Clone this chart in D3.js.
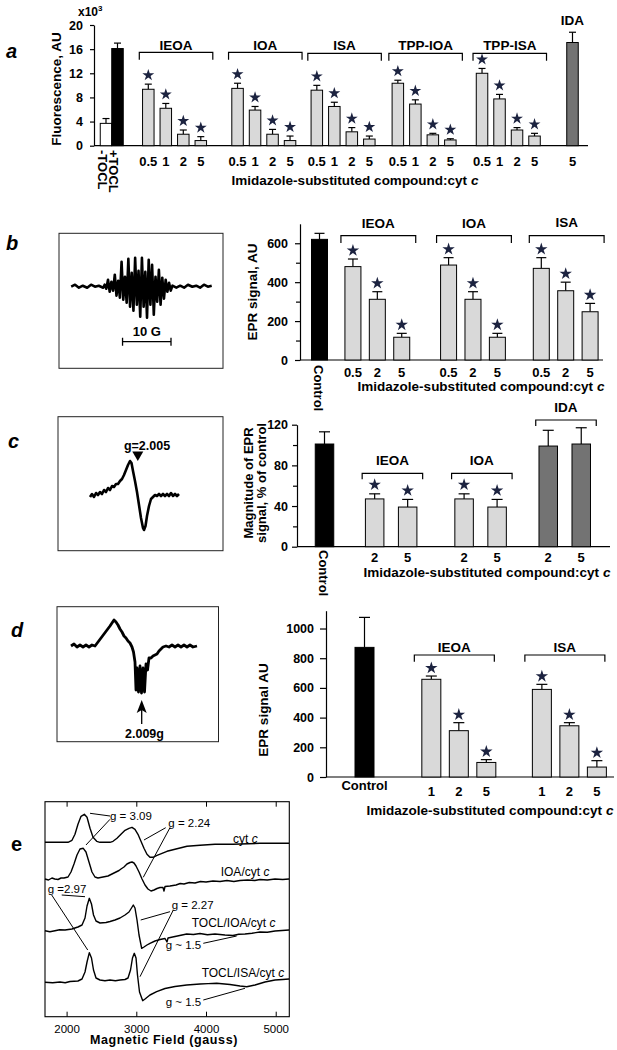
<!DOCTYPE html>
<html><head><meta charset="utf-8">
<script src="https://cdn.jsdelivr.net/npm/d3@7"></script>
<style>
body{margin:0;background:#fff;}
svg{display:block;background:#fff;}
</style></head><body>
<svg id="fig" width="617" height="1050"></svg>
<script>
// ================= DATA =================
// Panel a : fluorescence (x10^3 AU)
const aGroups = ["TOCL", "IEOA", "IOA", "ISA", "TPP-IOA", "TPP-ISA", "IDA"];
const aDoses = [["-TOCL","+TOCL"],["0.5","1","2","5"],["0.5","1","2","5"],["0.5","1","2","5"],["0.5","1","2","5"],["0.5","1","2","5"],["5"]];
const aValues = [[3.7,16.1],[9.35,6.2,1.9,0.85],[9.5,5.9,1.9,0.85],[9.2,6.5,2.3,1.1],[10.35,6.9,1.8,0.95],[12.0,7.75,2.6,1.6],[17.1]];
const aErrors = [[0.8,0.9],[0.85,0.8,0.7,0.65],[0.85,0.6,0.8,0.75],[0.8,0.7,0.7,0.5],[0.5,0.7,0.25,0.2],[0.8,0.75,0.4,0.45],[1.7]];
const aYTicks = [0,4,8,12,16,20];

// Panel b : EPR signal, AU
const bGroups = ["Control", "IEOA", "IOA", "ISA"];
const bDoses = [["Control"],["0.5","2","5"],["0.5","2","5"],["0.5","2","5"]];
const bValues = [[620],[480,312,117],[488,312,117],[471,356,248]];
const bErrors = [[31],[39,39,20],[38,39,20],[55,44,43]];
const bYTicks = [0,200,400,600];
const bYMinor = [100,300,500];

// Panel c : magnitude of EPR signal, % of control
const cGroups = ["Control", "IEOA", "IOA", "IDA"];
const cDoses = [["Control"],["2","5"],["2","5"],["2","5"]];
const cValues = [[101],[47,39],[47,39],[99,101]];
const cErrors = [[12],[5,7.5],[5,7.5],[15.5,16]];
const cYTicks = [0,40,80,120];
const cYMinor = [20,60,100];

// Panel d : EPR signal AU
const dGroups = ["Control", "IEOA", "ISA"];
const dDoses = [["Control"],["1","2","5"],["1","2","5"]];
const dValues = [[873],[658,312,98],[590,345,67]];
const dErrors = [[202],[22,54,19],[34,21,43]];
const dYTicks = [0,200,400,600,800,1000];

// Inset spectra (field offset, signal amplitude)
const bSpecField = [0.1,0.9,1.7,2.5,3.4,4.2,5.0,5.8,6.7,7.0,7.35,7.7,8.05,8.4,8.75,9.1,9.45,9.8,10.15,10.5,10.85,11.2,11.55,11.9,12.25,12.6,12.95,13.3,13.65,14.0,14.35,14.7,15.05,15.4,15.75,16.1,16.45,16.8,17.15,17.5,17.85,18.2,18.55,18.9,19.25,19.6,19.95,20.3,20.65,21.0,21.8,22.6,23.4,24.2,25.1,25.9,26.7,27.5,28.3,29.1];
const bSpecSignal = [0,2,-1,1,-1,2,0,1,-1,2,-2,7,-5,5,-4,12,-9,6,-11,25,-13,10,-16,28,-20,14,-24,29,-18,16,-30,29,-20,15,-31,27,-18,22,-28,10,-15,17,-18,9,-12,7,-5,4,-4,1,-1,1,-1,2,0,1,-1,2,0,1];
const cSpecField = [32,34,36,38,40,42,44,46,48,50,52,54,56,58,60,62,64,66,68,70,72,73.5,75,77,79,81,83,85,86,87.5,89,91,93,95,97,99,101,103,105,107,109,111,113,115,117,119,121];
const cSpecSignal = [-1,2,-1,3,1,4,2,6,4,8,6,10,9,12,12,15,17,21,26,31,35,33,25,15,4,-9,-22,-32,-34,-30,-20,-10,-3,-1,1,0,2,0,2,0,2,0,3,0,2,0,2];
const dSpecField = [14,17,20,23,26,29,32,35,38,41,44,47,50,53,55,57,59,61,63,65,67,69,71,73,75,76.5,78,79,80,81.5,83,84.5,86,87.5,89,90.5,92,94,96,98,100,102,104,106,109,112,115,118,121,124,127,130,133,136,140];
const dSpecSignal = [0,2,-1,1,-1,1,-1,1,0,4,8,12,16,20,23,26,24,21,17,14,10,8,5,3,-1,-6,-16,-44,-22,-46,-20,-47,-22,-46,-18,-24,-12,-12,-10,-9,-8,-5,-3,-1,0,-1,1,-1,1,-1,1,-1,1,-1,0];

// Panel e : EPR spectra (magnetic field in gauss, relative signal)
const eLabels = ["cyt c", "IOA/cyt c", "TOCL/IOA/cyt c", "TOCL/ISA/cyt c"];
const eOffsets = [174.4, 137.7, 86, 34.4];
const eField1 = [1690,1905,2020,2077,2120,2163,2207,2254,2293,2336,2379,2432,2479,2623,2666,2723,2780,2838,2895,2938,2981,3024,3067,3110,3153,3196,3239,3297,3369,3440,3555,3727,3914,4129,4387,4775,5191];
const eSig1 = [0,0,0,2,8,18,26,28,25,14,5,1,0,0,1,4,8,12,14,15,13,8,1,-6,-12,-15,-15,-13,-11,-9,-7,-4,-3,-2,-2,-1,-1];
const eField2 = [1690,1740,1790,1830,1877,1920,1963,2020,2063,2106,2149,2192,2239,2278,2321,2364,2407,2450,2522,2594,2651,2709,2752,2780,2823,2866,2910,2938,2967,2996,3039,3082,3125,3167,3211,3254,3297,3340,3383,3397,3412,3483,3570,3630,3684,3760,3842,3920,4000,4100,4201,4300,4400,4488,4600,4700,4775,4880,4990,5100,5191];
const eSig2 = [0,-1,1,0,-0.5,1,1,2,7,15,24,30,30.7,27,17,7,2,1,2,3,5,7,8.5,10,12,15,16.5,17,16,13,7,0,-6,-10,-12,-11,-9.5,-8.5,-8.5,-12,-7.5,-7,-6,-4.5,-5,-3.5,-4,-2.5,-3,-2,-2.5,-1.5,-2.5,-1.5,-1,-1.5,-0.5,-1,0,-0.5,0];
const eField3 = [1690,1760,1833,1900,1977,2077,2163,2221,2264,2293,2326,2357,2386,2422,2479,2565,2623,2694,2766,2838,2895,2931,2957,2981,3010,3039,3077,3110,3153,3196,3268,3340,3412,3440,3455,3555,3640,3723,3820,3914,4020,4129,4272,4387,4470,4559,4660,4775,4880,4990,5191];
const eSig3 = [0,-1,0,1,0.7,1.7,3.7,5.7,12.7,24.7,32.4,26.7,15.7,9.7,7.7,8.2,9.2,10.7,12.7,15.7,18.7,22.7,25.7,22.7,10.7,-4.3,-17.6,-16.3,-14.3,-12.6,-10.3,-8.8,-7.8,-11.3,-7.3,-5.8,-4.5,-3.3,-3.8,-2.8,-4,-3.3,-4.3,-4.8,-3.6,-3.3,-2.5,-1.3,-1.6,-0.3,0.7];
const eField4 = [1690,1800,1905,1980,2049,2163,2221,2264,2293,2326,2357,2386,2422,2479,2550,2623,2700,2766,2838,2881,2917,2945,2971,2996,3017,3046,3092,3125,3196,3292,3412,3555,3640,3723,3820,3914,4030,4153,4344,4488,4584,4703,4846,4990,5100,5191];
const eSig4 = [0,-0.5,0.3,-0.5,0.8,1.3,3.3,10.3,20.3,29.6,24.3,12.3,4.3,2.3,1.5,2.3,1.6,2.3,2.8,4.3,12.3,24.3,29,24.3,7.3,-9.7,-18.4,-16.7,-12.7,-9.4,-6.2,-4.2,-3.5,-2.7,-2.2,-1.7,-1.3,-1,-2.2,-3.7,-4.4,-2.7,0.3,2.3,2.8,3.3];
const eTicks = [2000,3000,4000,5000];
// annotation leaders: [field1, signal1, field2, signal2]
const eLeaders = [[2336,203.4,2623,200.7],[2623,197.4,2278,171.7],[3422,189,3110,176.7],[3483,189,3100,139.4],
                  [1930,121.7,2264,120],[1786,121.7,2303,66.7],[3483,105,3063,96.7],[3531,106.7,3053,40],
                  [3961,73.4,4440,80.7],[3961,16.7,4559,28.4]];
const eNotes = [["g = 3.09",2623,200.7],["g = 2.24",3459,193.9],["g =2.97",1729,127.7],["g = 2.27",3508,111.7],["g ~ 1.5",3422,71.7],["g ~ 1.5",3422,15]];
const eLabelAnchors = [[4387,177.4],[4211,145],[3795,94],[3938,43.4]];

// ================= DRAWING =================
const FONT = '"Liberation Sans", Arial, Helvetica, sans-serif';
const svg = d3.select("#fig");
const LIGHT = "#d9d9d9", DARK = "#737373", STARC = "#1c2340";

function txt(g, s, x, y, opt = {}) {
  const t = g.append("text").attr("x", x).attr("y", y)
    .attr("font-family", FONT).attr("font-size", opt.size || 13)
    .attr("font-weight", opt.weight || "bold")
    .attr("font-style", opt.style || "normal")
    .attr("text-anchor", opt.anchor || "middle").attr("fill", "#000");
  if (opt.ls) t.attr("letter-spacing", opt.ls);
  if (opt.transform) t.attr("transform", opt.transform);
  t.text(s);
  return t;
}
function xTitle(g, x, y, size) {
  const t = g.append("text").attr("x", x).attr("y", y).attr("text-anchor", "middle")
    .attr("font-family", FONT).attr("font-weight", "bold").attr("font-size", size || 13.5);
  t.append("tspan").text("Imidazole-substituted compound:cyt ");
  t.append("tspan").attr("font-style", "italic").text("c");
}
function styleAxis(sel, fs) {
  sel.select(".domain").attr("stroke", "#000").attr("stroke-width", 1.2);
  sel.selectAll(".tick line").attr("stroke", "#000").attr("stroke-width", 1.2);
  sel.selectAll(".tick text").attr("font-family", FONT).attr("font-weight", "bold")
    .attr("font-size", fs || 12.5).attr("fill", "#000");
}

function drawBars(o) {
  const g = svg.append("g");
  const y = d3.scaleLinear().domain(o.yDomain).range(o.yRange);
  const slots = []; let c = 0;
  o.values.forEach((vals, gi) => {
    const s = [];
    vals.forEach((v, i) => { if (i > 0) c += o.steps[gi]; s.push(c); });
    slots.push(s);
    c += (o.gaps[gi] || 0);
  });
  const x = d3.scaleLinear().domain([0, 1]).range([o.xStart, o.xStart + o.slotPx]);

  const ya = g.append("g").attr("transform", `translate(${o.axisX},0)`)
    .call(d3.axisLeft(y).tickValues(o.yTicks).tickSize(o.tickLen).tickSizeOuter(0)
      .tickPadding(o.tickPad).tickFormat(d3.format("d")));
  styleAxis(ya, o.tickFont);
  if (o.minor) {
    const m = g.append("g").attr("transform", `translate(${o.axisX},0)`)
      .call(d3.axisLeft(y).tickValues(o.minor).tickSize(o.tickLen - 1).tickFormat(""));
    m.select(".domain").remove();
    styleAxis(m);
  }
  g.append("line").attr("x1", o.axisX).attr("x2", o.xEnd).attr("y1", y(0)).attr("y2", y(0))
    .attr("stroke", "#000").attr("stroke-width", 1.2);

  const star = d3.symbol().type(d3.symbolStar).size(o.starSize || 48);
  o.values.forEach((vals, gi) => {
    vals.forEach((v, i) => {
      const cx = x(slots[gi][i]);
      const e = o.errors[gi][i];
      g.append("line").attr("x1", cx).attr("x2", cx).attr("y1", y(v)).attr("y2", y(v + e))
        .attr("stroke", "#000").attr("stroke-width", 1.2);
      g.append("line").attr("x1", cx - o.capW / 2).attr("x2", cx + o.capW / 2)
        .attr("y1", y(v + e)).attr("y2", y(v + e)).attr("stroke", "#000").attr("stroke-width", 1.2);
      const col = Array.isArray(o.colors[gi]) ? o.colors[gi][i] : o.colors[gi];
      g.append("rect").attr("x", cx - o.bw / 2).attr("y", y(v)).attr("width", o.bw)
        .attr("height", y(0) - y(v)).attr("fill", col).attr("stroke", "#000").attr("stroke-width", 1);
      if (o.stars[gi]) {
        g.append("path").attr("d", star).attr("fill", STARC)
          .attr("transform", `translate(${cx},${y(v + e) - o.starGap})`);
      }
      const lab = o.doses[gi][i];
      if (o.rotated[gi]) {
        txt(g, lab, 0, 0, { size: o.xFont, anchor: "start",
          transform: `translate(${cx - (o.rotShift || 0)},${o.rotY}) rotate(90) translate(0,4.5)` });
      } else {
        txt(g, lab, cx, (o.ctrlLabelY != null && gi === 0) ? o.ctrlLabelY : o.labelY, { size: o.xFont });
      }
    });
    if (o.bracketY[gi] != null) {
      const l = x(slots[gi][0]) - o.bl, r = x(slots[gi][slots[gi].length - 1]) + o.br, by = o.bracketY[gi];
      g.append("path").attr("d", `M${l},${by + o.drop}V${by}H${r}V${by + o.drop}`)
        .attr("fill", "none").attr("stroke", "#000").attr("stroke-width", 1.2);
    }
    if (o.groupLabelY[gi] != null) {
      const l = x(slots[gi][0]), r = x(slots[gi][slots[gi].length - 1]);
      const mid = o.bracketY[gi] != null ? ((l - o.bl) + (r + o.br)) / 2 : (l + r) / 2;
      txt(g, o.groups[gi], mid, o.groupLabelY[gi], { size: 13.5 });
    }
  });
  return g;
}

// ---------- panel labels
txt(svg, "a", 6, 58, { size: 20, style: "italic", anchor: "start" });
txt(svg, "b", 6, 250, { size: 20, style: "italic", anchor: "start" });
txt(svg, "c", 8, 448, { size: 20, style: "italic", anchor: "start" });
txt(svg, "d", 11, 637, { size: 20, style: "italic", anchor: "start" });
txt(svg, "e", 11, 851, { size: 20, anchor: "start" });

// ---------- panel a
drawBars({
  yDomain: [0, 20], yRange: [145.7, 25], axisX: 94, xEnd: 588,
  yTicks: aYTicks, tickLen: 4, tickPad: 7, tickFont: 12.5,
  values: aValues, errors: aErrors, doses: aDoses, groups: aGroups,
  steps: [0.657, 1, 1, 1, 1, 1, 1], gaps: [1.76, 2.1, 1.53, 1.63, 1.81, 2.17],
  xStart: 106, slotPx: 17.5, bw: 11.5, capW: 7,
  colors: [["#fff", "#000"], LIGHT, LIGHT, LIGHT, LIGHT, LIGHT, DARK],
  stars: [false, true, true, true, true, true, false], starGap: 9, starSize: 44,
  rotated: [true, false, false, false, false, false, false], rotY: 150, rotShift: 4,
  labelY: 166, xFont: 13,
  bracketY: [null, 52.3, 52.3, 53.3, 53.3, 53.3, null], drop: 7.5, bl: 9, br: 12,
  groupLabelY: [null, 49.5, 49.5, 50, 50, 49.5, 24.5]
});
(function () {
  const t = svg.append("text").attr("x", 78).attr("y", 16).attr("font-family", FONT)
    .attr("font-weight", "bold").attr("font-size", 12);
  t.append("tspan").text("x10");
  t.append("tspan").attr("font-size", 8).attr("dy", -5).text("3");
})();
txt(svg, "Fluorescence, AU", 0, 0, { size: 13.5, transform: "translate(61,89) rotate(-90)" });
xTitle(svg, 355, 185);

// ---------- panel b
drawBars({
  yDomain: [0, 700], yRange: [360, 223.8], axisX: 300, xEnd: 603,
  yTicks: bYTicks, minor: bYMinor, tickLen: 5, tickPad: 7, tickFont: 12.5,
  values: bValues, errors: bErrors, doses: bDoses, groups: bGroups,
  steps: [1, 1, 1, 1], gaps: [1.37, 1.92, 1.8],
  xStart: 319.5, slotPx: 24.4, bw: 16, capW: 10,
  colors: ["#000", LIGHT, LIGHT, LIGHT],
  stars: [false, true, true, true], starGap: 8.5, starSize: 48,
  rotated: [true, false, false, false], rotY: 365, rotShift: 1,
  labelY: 376.5, xFont: 13,
  bracketY: [null, 235.7, 235.7, 235.7], drop: 7.3, bl: 12, br: 14,
  groupLabelY: [null, 228, 228, 227]
});
txt(svg, "EPR signal, AU", 0, 0, { size: 13.5, transform: "translate(257,292) rotate(-90)" });
xTitle(svg, 481, 390.5);

// ---------- panel c
drawBars({
  yDomain: [0, 120], yRange: [546.7, 424.7], axisX: 297, xEnd: 610,
  yTicks: cYTicks, minor: cYMinor, tickLen: 5, tickPad: 4, tickFont: 12.5,
  values: cValues, errors: cErrors, doses: cDoses, groups: cGroups,
  steps: [1, 1, 1, 1], gaps: [1.52, 1.71, 1.55],
  xStart: 324.5, slotPx: 33, bw: 18.5, capW: 11,
  colors: ["#000", LIGHT, LIGHT, DARK],
  stars: [false, true, true, false], starGap: 9, starSize: 48,
  rotated: [true, false, false, false], rotY: 550, rotShift: 1,
  labelY: 561.5, xFont: 13,
  bracketY: [null, 473.3, 473.3, 420], drop: 6, bl: 12.5, br: 15,
  groupLabelY: [null, 465, 465, 412]
});
txt(svg, "Magnitude of EPR", 0, 0, { size: 13, transform: "translate(253,483) rotate(-90)" });
txt(svg, "signal, % of control", 0, 0, { size: 13, transform: "translate(266,483) rotate(-90)" });
xTitle(svg, 487, 576.5);

// ---------- panel d
drawBars({
  yDomain: [0, 1120], yRange: [777, 610.7], axisX: 326, xEnd: 614,
  yTicks: dYTicks, tickLen: 6, tickPad: 6, tickFont: 12.5,
  values: dValues, errors: dErrors, doses: dDoses, groups: dGroups,
  steps: [1, 1, 1], gaps: [2.43, 2.02],
  xStart: 364.5, slotPx: 27.5, bw: 19, capW: 11,
  colors: ["#000", LIGHT, LIGHT],
  stars: [false, true, true], starGap: 8, starSize: 48,
  rotated: [false, false, false],
  labelY: 796, ctrlLabelY: 789.5, xFont: 13,
  bracketY: [null, 655, 655], drop: 6.7, bl: 17, br: 8,
  groupLabelY: [null, 651.5, 651.5]
});
txt(svg, "EPR signal AU", 0, 0, { size: 13.5, transform: "translate(268,710) rotate(-90)" });
xTitle(svg, 490, 814.5);

// ---------- insets
function inset(bx, by, bw, bh) {
  svg.append("rect").attr("x", bx).attr("y", by).attr("width", bw).attr("height", bh)
    .attr("fill", "none").attr("stroke", "#222").attr("stroke-width", 1);
}
inset(59, 233.3, 164, 135);
inset(58, 416.7, 165, 134);
inset(57, 606.7, 161.5, 135);

const specLine = d3.line();
// b spectrum: field in G
(function () {
  const x = d3.scaleLinear().domain([0, 29.1]).range([70.7, 211.7]);
  const y = d3.scaleLinear().domain([-35, 35]).range([321.7, 251.7]);
  svg.append("path").attr("d", specLine(bSpecField.map((f, i) => [x(f), y(bSpecSignal[i])])))
    .attr("fill", "none").attr("stroke", "#000").attr("stroke-width", 2.6).attr("stroke-linejoin", "round");
  const s0 = x(10.7), s1 = x(20.7), sy = 341.7;
  svg.append("path").attr("d", `M${s0},${sy - 4}V${sy + 4}M${s0},${sy}H${s1}M${s1},${sy - 4}V${sy + 4}`)
    .attr("stroke", "#000").attr("stroke-width", 1.3).attr("fill", "none");
  txt(svg, "10 G", (s0 + s1) / 2, 336, { size: 13 });
})();
// c spectrum
(function () {
  const x = d3.scaleLinear().domain([0, 1]).range([58, 59]);
  const y = d3.scaleLinear().domain([0, 1]).range([496, 495]);
  svg.append("path").attr("d", specLine(cSpecField.map((f, i) => [x(f), y(cSpecSignal[i])])))
    .attr("fill", "none").attr("stroke", "#000").attr("stroke-width", 2.6).attr("stroke-linejoin", "round");
  const tx = x(79.8);
  svg.append("path").attr("d", `M${tx - 5.5},451.5H${tx + 5.5}L${tx},461Z`).attr("fill", "#000");
  txt(svg, "g=2.005", 147, 449.5, { size: 12.5 });
})();
// d spectrum
(function () {
  const x = d3.scaleLinear().domain([0, 1]).range([57, 58]);
  const y = d3.scaleLinear().domain([0, 1]).range([646, 645]);
  svg.append("path").attr("d", specLine(dSpecField.map((f, i) => [x(f), y(dSpecSignal[i])])))
    .attr("fill", "none").attr("stroke", "#000").attr("stroke-width", 2.8).attr("stroke-linejoin", "round");
  const ax = x(84.7);
  svg.append("path").attr("d", `M${ax},700L${ax + 5},713L${ax},710L${ax - 5},713Z`).attr("fill", "#000");
  svg.append("line").attr("x1", ax).attr("x2", ax).attr("y1", 708).attr("y2", 724)
    .attr("stroke", "#000").attr("stroke-width", 1.3);
  txt(svg, "2.009g", 144.5, 737.5, { size: 12.5 });
})();

// ---------- panel e
(function () {
  const g = svg.append("g");
  const x = d3.scaleLinear().domain([1690, 5195]).range([45, 289.3]);
  const y = d3.scaleLinear().domain([0, 215]).range([1016.7, 801.7]);
  g.append("rect").attr("x", 45).attr("y", 801.7).attr("width", 244.3).attr("height", 215)
    .attr("fill", "none").attr("stroke", "#000").attr("stroke-width", 1.1);
  const bot = g.append("g").attr("transform", `translate(0,${y(0)})`)
    .call(d3.axisBottom(x).tickValues(eTicks).tickSize(-5).tickSizeOuter(0).tickPadding(5).tickFormat(d3.format("d")));
  bot.select(".domain").remove();
  bot.selectAll(".tick line").attr("stroke", "#000");
  bot.selectAll(".tick text").attr("font-family", FONT).attr("font-size", 11.5).attr("fill", "#000").attr("y", 8);
  const top = g.append("g").attr("transform", `translate(0,${y(215)})`)
    .call(d3.axisTop(x).tickValues(eTicks).tickSize(-5).tickFormat(""));
  top.select(".domain").remove();
  top.selectAll(".tick line").attr("stroke", "#000");

  const fields = [eField1, eField2, eField3, eField4];
  const sigs = [eSig1, eSig2, eSig3, eSig4];
  fields.forEach((fs, k) => {
    g.append("path").attr("d", d3.line()(fs.map((f, i) => [x(f), y(eOffsets[k] + sigs[k][i])])))
      .attr("fill", "none").attr("stroke", "#000").attr("stroke-width", 1.4).attr("stroke-linejoin", "round");
  });
  eLeaders.forEach(l => {
    g.append("line").attr("x1", x(l[0])).attr("y1", y(l[1])).attr("x2", x(l[2])).attr("y2", y(l[3]))
      .attr("stroke", "#000").attr("stroke-width", 1);
  });
  eNotes.forEach(n => txt(g, n[0], x(n[1]), y(n[2]) + 4, { size: 11.5, weight: "normal", anchor: "start" }));
  eLabels.forEach((lab, k) => {
    const t = g.append("text").attr("x", x(eLabelAnchors[k][0])).attr("y", y(eLabelAnchors[k][1]) + 4)
      .attr("font-family", FONT).attr("font-size", 12).attr("fill", "#000");
    t.append("tspan").text(lab.slice(0, -1));
    t.append("tspan").attr("font-style", "italic").text("c");
  });
  txt(g, "Magnetic Field (gauss)", 164, 1044, { size: 12.5, ls: 0.6 });
})();
</script>
</body></html>
